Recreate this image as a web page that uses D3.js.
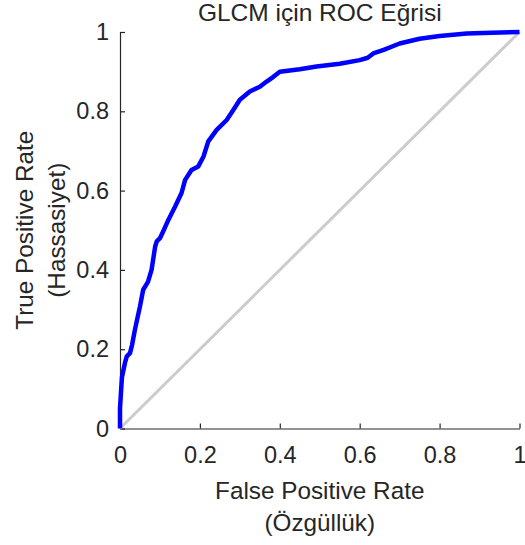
<!DOCTYPE html>
<html>
<head>
<meta charset="utf-8">
<script src="https://cdn.jsdelivr.net/npm/d3@7"></script>
<style>
  body { margin: 0; background: #fff; }
  text { font-family: Arial, 'Liberation Sans', Helvetica, sans-serif; fill: #262626; }
</style>
</head>
<body>
<div id="chart"></div>
<script>
const width = 525;
const height = 545;

// ROC points
const fpr = [0, 0, 0.003, 0.005, 0.0125, 0.017, 0.025, 0.03, 0.0375, 0.05,
  0.058, 0.07, 0.079, 0.088, 0.092, 0.1, 0.108, 0.121, 0.138, 0.154,
  0.163, 0.179, 0.196, 0.209, 0.221, 0.242, 0.267, 0.284, 0.3, 0.325,
  0.35, 0.367, 0.384, 0.4, 0.45, 0.492, 0.55, 0.6, 0.62, 0.634,
  0.66, 0.7, 0.75, 0.8, 0.868, 0.93, 1.0];
const tpr = [0, 0.05, 0.1, 0.13, 0.166, 0.182, 0.19, 0.21, 0.25, 0.308,
  0.35, 0.37, 0.4, 0.459, 0.472, 0.48, 0.497, 0.526, 0.56, 0.594,
  0.627, 0.652, 0.661, 0.686, 0.724, 0.753, 0.778, 0.804, 0.829, 0.85,
  0.862, 0.875, 0.887, 0.9, 0.906, 0.913, 0.92, 0.929, 0.935, 0.946,
  0.955, 0.971, 0.983, 0.99, 0.996, 0.998, 1.0];
const diag = [0, 1];

const xTicks = [0, 0.2, 0.4, 0.6, 0.8, 1];
const yTicks = [0, 0.2, 0.4, 0.6, 0.8, 1];

const title = 'GLCM için ROC Eğrisi';
const xLabel = ['False Positive Rate', '(Özgüllük)'];
const yLabel = ['True Positive Rate', '(Hassasiyet)'];

const svg = d3
  .select('#chart')
  .append('svg')
  .attr('width', width)
  .attr('height', height);

let x = d3.scaleLinear().domain([0, 1]).range([120, 519.5]);
let y = d3.scaleLinear().domain([0, 1]).range([428.5, 32]);

let fmt = (d) => String(d);

// axes (matlab style, ticks inward, box off)
let xAxis = svg
  .append('g')
  .attr('transform', 'translate(0,' + y(0) + ')')
  .call(d3.axisBottom(x).tickValues(xTicks).tickSizeInner(-5).tickSizeOuter(0).tickPadding(18).tickFormat(fmt));

let yAxis = svg
  .append('g')
  .attr('transform', 'translate(' + x(0) + ',0)')
  .call(d3.axisLeft(y).tickValues(yTicks).tickSizeInner(-5).tickSizeOuter(0).tickPadding(11).tickFormat(fmt));

[xAxis, yAxis].forEach((a) => {
  a.select('.domain').attr('stroke', '#262626').attr('stroke-width', 1.2);
  a.selectAll('.tick line').attr('stroke', '#262626').attr('stroke-width', 1.2);
  a.selectAll('.tick text').style('font-size', '23.5px').attr('fill', '#262626');
});

// chance line
svg
  .append('line')
  .attr('x1', x(diag[0]))
  .attr('y1', y(diag[0]))
  .attr('x2', x(diag[1]))
  .attr('y2', y(diag[1]))
  .attr('stroke', '#cccccc')
  .attr('stroke-width', 3);

let line = d3
  .line()
  .x((d) => x(d[0]))
  .y((d) => y(d[1]));

svg
  .append('path')
  .datum(fpr.map((f, i) => [f, tpr[i]]))
  .attr('d', line)
  .attr('fill', 'none')
  .attr('stroke', '#0000ff')
  .attr('stroke-width', 4.5)
  .attr('stroke-linejoin', 'round');

// title and labels
svg
  .append('text')
  .attr('x', (x(0) + x(1)) / 2)
  .attr('y', 21)
  .attr('text-anchor', 'middle')
  .style('font-size', '24.5px')
  .text(title);

svg
  .selectAll('.xlabel')
  .data(xLabel)
  .enter()
  .append('text')
  .attr('class', 'xlabel')
  .attr('x', (x(0) + x(1)) / 2)
  .attr('y', (d, i) => 499 + i * 32)
  .attr('text-anchor', 'middle')
  .style('font-size', '24.3px')
  .text((d) => d);

svg
  .selectAll('.ylabel')
  .data(yLabel)
  .enter()
  .append('text')
  .attr('class', 'ylabel')
  .attr('transform', (d, i) => 'translate(' + (33 + i * 32) + ',' + (y(0) + y(1)) / 2 + ') rotate(-90)')
  .attr('text-anchor', 'middle')
  .style('font-size', '24.3px')
  .text((d) => d);
</script>
</body>
</html>
